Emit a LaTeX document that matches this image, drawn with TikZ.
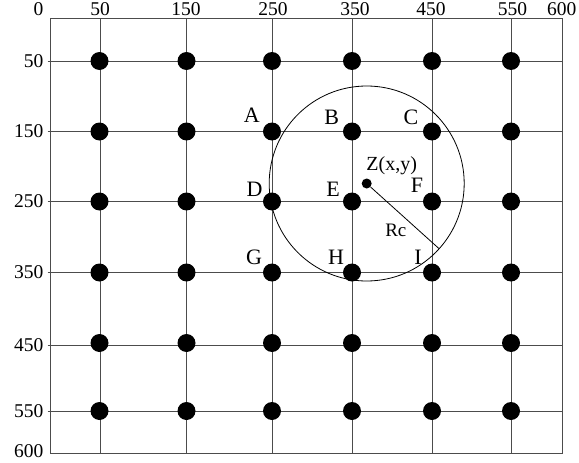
\documentclass[tikz,border=0pt]{standalone}
\usepackage{fontspec}
\setmainfont{Liberation Serif}
\usetikzlibrary{calc}
\begin{document}
\begin{tikzpicture}[x=1pt, y=-1pt,
    grade/.style={draw=black!70, line width=1pt},
    ponto/.style={circle, fill=black, inner sep=0pt, minimum size=18pt},
    rotulo/.style={font=\fontsize{22}{24}\selectfont, inner sep=0pt},
    eixo/.style={font=\fontsize{19.5}{22}\selectfont, inner sep=0pt}]
\useasboundingbox (0,0) rectangle (579,463);

% frame and grid lines
\draw[grade] (50,18.3) rectangle (562.3,453);
\foreach \x in {100,186.5,272,352,432,511}
  \draw[grade] (\x,18.3) -- (\x,453);
\foreach \y in {61,131.5,201.5,272.5,345.5,411}
  \draw[grade] (47.5,\y) -- (562.3,\y);

% axis values
\foreach \v/\x in {0/38.5,50/100,150/186,250/273,350/355,450/431,550/512.5,600/561.7}
  \node[eixo, anchor=base] (top\v) at (\x,15.5) {\v};
\foreach \v/\y in {50/61,150/131.5,250/201.5,350/272.5,450/345.5,550/411,600/451}
  \node[eixo, anchor=east] (esq\v) at (43.5,\y) {\v};

% sensor nodes
\foreach \x [count=\i] in {99.5,186.5,272,352,432,511}
  \foreach \y [count=\j] in {61,131.5,201.5,272.5,343,411}
    \node[ponto] (p\i\j) at (\x,\y) {};

% point Z and sensing radius
\node[circle, fill=black, inner sep=0pt, minimum size=10pt] (Z) at (366.7,183.5) {};
\draw[line width=0.8pt] (Z.center) circle[radius=97.5pt];
\coordinate (borda) at ($(Z.center)+(-42:97.5pt)$);
\draw[line width=0.8pt] (Z) -- (borda);
\node[font=\fontsize{20}{22}\selectfont, inner sep=0pt, anchor=base] (lblZ) at (391.7,170) {Z(x,y)};
\node[font=\fontsize{19}{21}\selectfont, inner sep=0pt, anchor=base] (lblRc) at (395.8,236.7) {Rc};

% labels of the nine nearest nodes
\node[rotulo] (lblA) at (251.7,115) {A};
\node[rotulo] (lblB) at (331.7,117.5) {B};
\node[rotulo] (lblC) at (411,117) {C};
\node[rotulo] (lblD) at (254.5,189) {D};
\node[rotulo] (lblE) at (333,189) {E};
\node[rotulo] (lblF) at (417,185.5) {F};
\node[rotulo] (lblG) at (254,257.5) {G};
\node[rotulo] (lblH) at (336,257.5) {H};
\node[rotulo] (lblI) at (418,257.5) {I};

\end{tikzpicture}
\end{document}
